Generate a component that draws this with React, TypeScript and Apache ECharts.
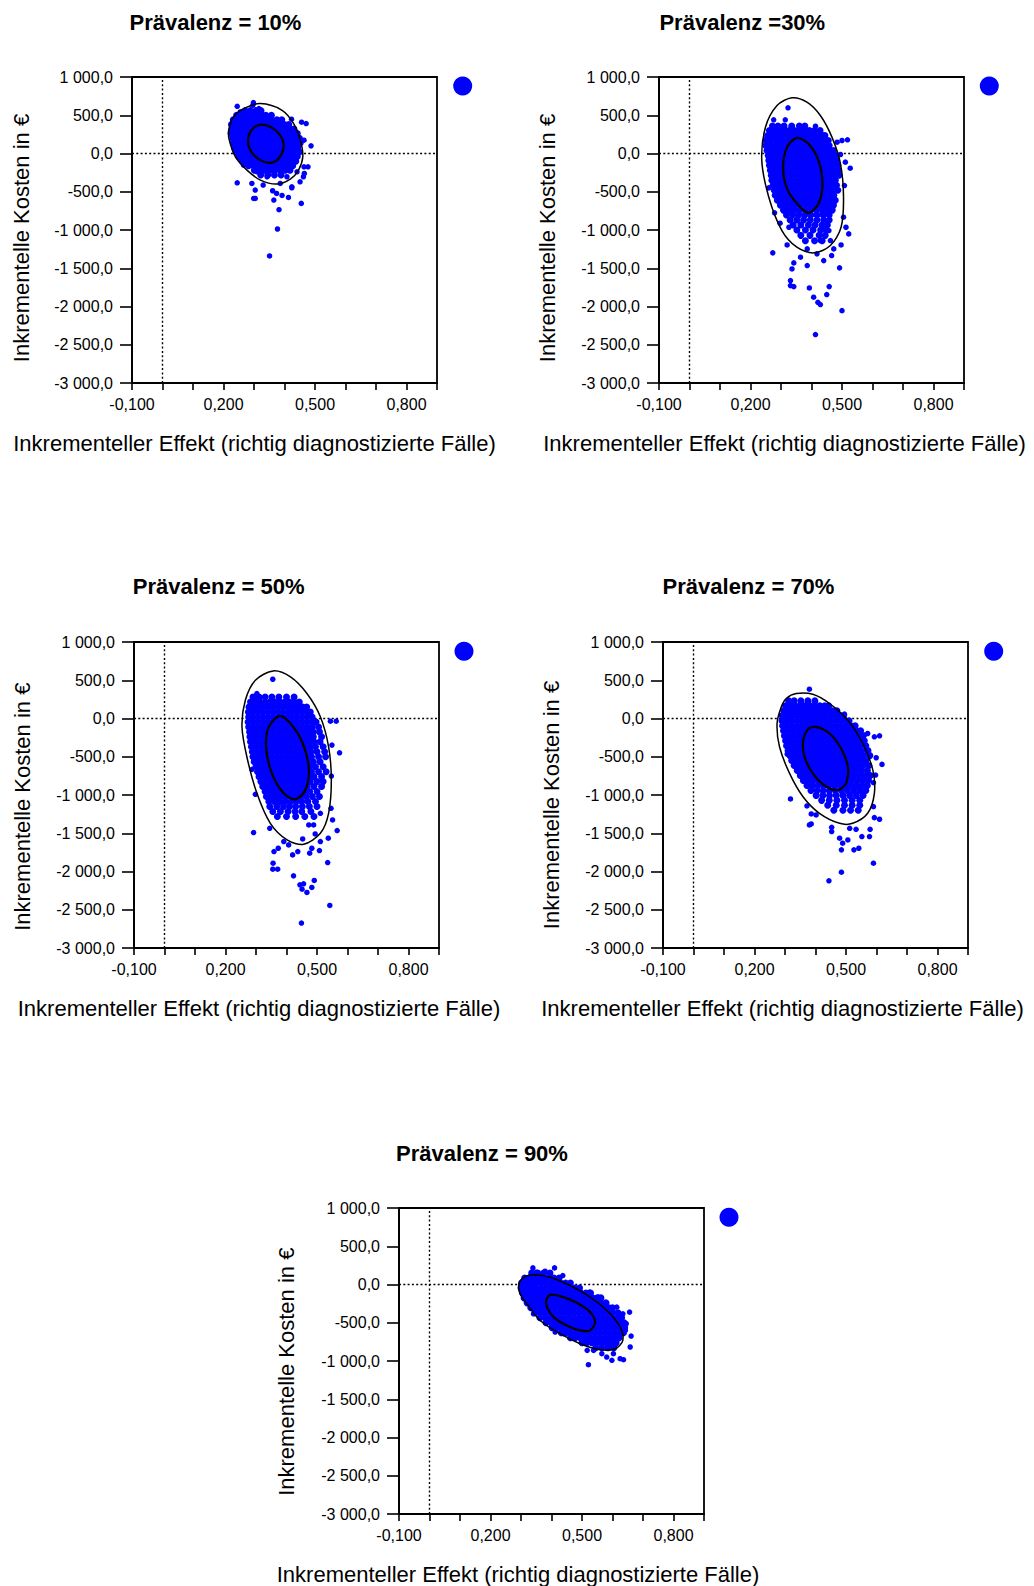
import React, { useEffect, useRef } from "react";
import * as echarts from "echarts";

const FONT = "'Liberation Sans', Arial, Helvetica, sans-serif";

// ---- axis ticks / labels ----
const X_LABELED = [-0.1, 0.2, 0.5, 0.8];
const X_TICK_LABELS = ["-0,100", "0,200", "0,500", "0,800"];
const Y_TICK_VALUES = [-3000, -2500, -2000, -1500, -1000, -500, 0, 500, 1000];
const Y_TICK_LABELS = ["-3 000,0", "-2 500,0", "-2 000,0", "-1 500,0", "-1 000,0", "-500,0", "0,0", "500,0", "1 000,0"];

const TITLES = ["Prävalenz = 10%", "Prävalenz =30%", "Prävalenz = 50%", "Prävalenz = 70%", "Prävalenz = 90%"];
const SERIES_NAMES = ["Prävalenz 10%", "Prävalenz 30%", "Prävalenz 50%", "Prävalenz 70%", "Prävalenz 90%"];
const X_AXIS_TITLE = "Inkrementeller Effekt (richtig diagnostizierte Fälle)";
const Y_AXIS_TITLE = "Inkrementelle Kosten in €";

// ---- dense cores: rows of [cost, [effects...]] ----
const DENSE_10: [number, number[]][] = [
  [560, [0.271, 0.288, 0.306, 0.323]],
  [500, [0.243, 0.259, 0.276, 0.29, 0.307, 0.324, 0.339, 0.357]],
  [440, [0.232, 0.248, 0.263, 0.279, 0.296, 0.311, 0.327, 0.344, 0.358, 0.375, 0.391]],
  [380, [0.226, 0.241, 0.258, 0.273, 0.289, 0.304, 0.32, 0.337, 0.352, 0.368, 0.383, 0.4, 0.414]],
  [320, [0.228, 0.244, 0.26, 0.276, 0.291, 0.307, 0.324, 0.339, 0.355, 0.371, 0.386, 0.403, 0.418, 0.431]],
  [260, [0.225, 0.241, 0.256, 0.272, 0.289, 0.303, 0.319, 0.336, 0.351, 0.367, 0.384, 0.399, 0.415, 0.43, 0.442]],
  [200, [0.23, 0.246, 0.262, 0.279, 0.294, 0.31, 0.327, 0.342, 0.357, 0.374, 0.389, 0.405, 0.422, 0.437, 0.449]],
  [140, [0.232, 0.248, 0.265, 0.28, 0.296, 0.312, 0.328, 0.345, 0.36, 0.376, 0.392, 0.409, 0.424, 0.44, 0.452]],
  [80, [0.236, 0.252, 0.268, 0.285, 0.3, 0.316, 0.333, 0.348, 0.364, 0.381, 0.396, 0.412, 0.428, 0.444]],
  [20, [0.241, 0.257, 0.274, 0.289, 0.305, 0.322, 0.337, 0.353, 0.37, 0.385, 0.401, 0.418, 0.433, 0.449]],
  [-40, [0.25, 0.266, 0.283, 0.298, 0.314, 0.331, 0.346, 0.362, 0.379, 0.394, 0.41, 0.427, 0.442]],
  [-100, [0.262, 0.279, 0.294, 0.31, 0.327, 0.342, 0.358, 0.375, 0.39, 0.406, 0.423, 0.437]],
  [-160, [0.282, 0.299, 0.315, 0.331, 0.348, 0.363, 0.379, 0.396, 0.411, 0.427]],
  [-220, [0.301, 0.318, 0.334, 0.352, 0.368, 0.385, 0.403, 0.418]],
  [-280, [0.322, 0.345, 0.367, 0.389]],
];
const DENSE_30: [number, number[]][] = [
  [360, [0.272, 0.29, 0.31, 0.335, 0.36, 0.378]],
  [300, [0.262, 0.279, 0.295, 0.311, 0.327, 0.344, 0.36, 0.376, 0.393, 0.41, 0.428]],
  [235, [0.256, 0.272, 0.288, 0.304, 0.32, 0.336, 0.352, 0.368, 0.384, 0.4, 0.416, 0.432, 0.444]],
  [170, [0.251, 0.267, 0.283, 0.299, 0.315, 0.331, 0.347, 0.363, 0.379, 0.395, 0.411, 0.427, 0.443, 0.455]],
  [105, [0.25, 0.266, 0.282, 0.298, 0.314, 0.33, 0.346, 0.362, 0.378, 0.394, 0.41, 0.426, 0.442, 0.458]],
  [40, [0.254, 0.27, 0.286, 0.302, 0.318, 0.334, 0.35, 0.366, 0.382, 0.398, 0.414, 0.43, 0.446, 0.462, 0.472]],
  [-25, [0.258, 0.274, 0.29, 0.306, 0.322, 0.338, 0.354, 0.37, 0.386, 0.402, 0.418, 0.434, 0.45, 0.466, 0.48]],
  [-90, [0.26, 0.276, 0.292, 0.308, 0.324, 0.34, 0.356, 0.372, 0.388, 0.404, 0.42, 0.436, 0.452, 0.468, 0.482]],
  [-155, [0.262, 0.278, 0.294, 0.31, 0.326, 0.342, 0.358, 0.374, 0.39, 0.406, 0.422, 0.438, 0.454, 0.47, 0.486]],
  [-220, [0.265, 0.281, 0.297, 0.313, 0.329, 0.345, 0.361, 0.377, 0.393, 0.409, 0.425, 0.441, 0.457, 0.473, 0.489]],
  [-285, [0.268, 0.284, 0.3, 0.316, 0.332, 0.348, 0.364, 0.38, 0.396, 0.412, 0.428, 0.444, 0.46, 0.476, 0.49]],
  [-350, [0.27, 0.286, 0.302, 0.318, 0.334, 0.35, 0.366, 0.382, 0.398, 0.414, 0.43, 0.446, 0.462, 0.478]],
  [-415, [0.274, 0.29, 0.306, 0.322, 0.338, 0.354, 0.37, 0.386, 0.402, 0.418, 0.434, 0.45, 0.466, 0.482]],
  [-480, [0.278, 0.294, 0.31, 0.326, 0.342, 0.358, 0.374, 0.39, 0.406, 0.422, 0.438, 0.454, 0.47, 0.486]],
  [-545, [0.281, 0.297, 0.313, 0.329, 0.345, 0.361, 0.377, 0.393, 0.409, 0.425, 0.441, 0.457, 0.473]],
  [-610, [0.288, 0.304, 0.32, 0.336, 0.352, 0.368, 0.384, 0.4, 0.416, 0.432, 0.448, 0.464, 0.478]],
  [-675, [0.298, 0.314, 0.33, 0.346, 0.362, 0.378, 0.394, 0.41, 0.426, 0.442, 0.458, 0.472]],
  [-740, [0.308, 0.326, 0.344, 0.362, 0.38, 0.398, 0.416, 0.434, 0.452, 0.468]],
  [-805, [0.318, 0.338, 0.358, 0.378, 0.398, 0.418, 0.438, 0.458]],
  [-870, [0.33, 0.352, 0.374, 0.396, 0.418, 0.44, 0.458]],
  [-935, [0.34, 0.365, 0.39, 0.412, 0.435, 0.452]],
  [-1000, [0.352, 0.38, 0.405, 0.43, 0.448]],
  [-1070, [0.365, 0.395, 0.425, 0.445]],
  [-1140, [0.38, 0.41, 0.435]],
];
const DENSE_50: [number, number[]][] = [
  [280, [0.29, 0.31, 0.33, 0.352, 0.375, 0.4, 0.425]],
  [215, [0.282, 0.298, 0.314, 0.33, 0.346, 0.362, 0.378, 0.394, 0.41, 0.426, 0.442]],
  [150, [0.277, 0.293, 0.309, 0.325, 0.341, 0.357, 0.373, 0.389, 0.405, 0.421, 0.437, 0.453, 0.466]],
  [85, [0.275, 0.291, 0.307, 0.323, 0.339, 0.355, 0.371, 0.387, 0.403, 0.419, 0.435, 0.451, 0.467, 0.478]],
  [20, [0.276, 0.292, 0.308, 0.324, 0.34, 0.356, 0.372, 0.388, 0.404, 0.42, 0.436, 0.452, 0.468, 0.484]],
  [-45, [0.274, 0.29, 0.306, 0.322, 0.338, 0.354, 0.37, 0.386, 0.402, 0.418, 0.434, 0.45, 0.466, 0.482, 0.497]],
  [-110, [0.276, 0.292, 0.308, 0.324, 0.34, 0.356, 0.372, 0.388, 0.404, 0.42, 0.436, 0.452, 0.468, 0.484, 0.505]],
  [-175, [0.279, 0.295, 0.311, 0.327, 0.343, 0.359, 0.375, 0.391, 0.407, 0.423, 0.439, 0.455, 0.471, 0.487, 0.508]],
  [-240, [0.28, 0.296, 0.312, 0.328, 0.344, 0.36, 0.376, 0.392, 0.408, 0.424, 0.44, 0.456, 0.472, 0.488, 0.515]],
  [-305, [0.282, 0.298, 0.314, 0.33, 0.346, 0.362, 0.378, 0.394, 0.41, 0.426, 0.442, 0.458, 0.474, 0.49, 0.51]],
  [-370, [0.285, 0.301, 0.317, 0.333, 0.349, 0.365, 0.381, 0.397, 0.413, 0.429, 0.445, 0.461, 0.477, 0.495, 0.52]],
  [-435, [0.288, 0.304, 0.32, 0.336, 0.352, 0.368, 0.384, 0.4, 0.416, 0.432, 0.448, 0.464, 0.48, 0.5, 0.525]],
  [-500, [0.29, 0.306, 0.322, 0.338, 0.354, 0.37, 0.386, 0.402, 0.418, 0.434, 0.45, 0.466, 0.482, 0.505, 0.528]],
  [-565, [0.294, 0.31, 0.326, 0.342, 0.358, 0.374, 0.39, 0.406, 0.422, 0.438, 0.454, 0.47, 0.488, 0.51]],
  [-630, [0.3, 0.316, 0.332, 0.348, 0.364, 0.38, 0.396, 0.412, 0.428, 0.444, 0.46, 0.476, 0.495, 0.52]],
  [-695, [0.305, 0.321, 0.337, 0.353, 0.369, 0.385, 0.401, 0.417, 0.433, 0.449, 0.465, 0.482, 0.505, 0.53]],
  [-760, [0.31, 0.326, 0.342, 0.358, 0.374, 0.39, 0.406, 0.422, 0.438, 0.454, 0.47, 0.49, 0.515]],
  [-825, [0.316, 0.332, 0.348, 0.364, 0.38, 0.396, 0.412, 0.428, 0.444, 0.46, 0.478, 0.5, 0.52]],
  [-890, [0.322, 0.338, 0.354, 0.37, 0.386, 0.402, 0.418, 0.434, 0.45, 0.468, 0.49, 0.515]],
  [-955, [0.33, 0.346, 0.362, 0.378, 0.394, 0.41, 0.426, 0.442, 0.458, 0.476, 0.5]],
  [-1020, [0.334, 0.35, 0.366, 0.382, 0.398, 0.414, 0.43, 0.446, 0.464, 0.485, 0.508]],
  [-1085, [0.342, 0.36, 0.378, 0.396, 0.414, 0.432, 0.45, 0.47, 0.495]],
  [-1150, [0.345, 0.368, 0.39, 0.41, 0.43, 0.452, 0.475, 0.5]],
  [-1215, [0.355, 0.38, 0.405, 0.428, 0.45, 0.48]],
  [-1280, [0.37, 0.4, 0.43, 0.46, 0.49]],
];
const DENSE_70: [number, number[]][] = [
  [230, [0.312, 0.33, 0.352, 0.375, 0.398]],
  [165, [0.302, 0.318, 0.334, 0.35, 0.366, 0.382, 0.398, 0.414, 0.43, 0.443]],
  [100, [0.296, 0.312, 0.328, 0.344, 0.36, 0.376, 0.392, 0.408, 0.424, 0.44, 0.456, 0.47]],
  [35, [0.291, 0.307, 0.323, 0.339, 0.355, 0.371, 0.387, 0.403, 0.419, 0.435, 0.451, 0.467, 0.483, 0.492]],
  [-30, [0.29, 0.306, 0.322, 0.338, 0.354, 0.37, 0.386, 0.402, 0.418, 0.434, 0.45, 0.466, 0.482, 0.498, 0.51]],
  [-95, [0.292, 0.308, 0.324, 0.34, 0.356, 0.372, 0.388, 0.404, 0.42, 0.436, 0.452, 0.468, 0.484, 0.5, 0.516, 0.53]],
  [-160, [0.295, 0.311, 0.327, 0.343, 0.359, 0.375, 0.391, 0.407, 0.423, 0.439, 0.455, 0.471, 0.487, 0.503, 0.519, 0.535, 0.548]],
  [-225, [0.298, 0.314, 0.33, 0.346, 0.362, 0.378, 0.394, 0.41, 0.426, 0.442, 0.458, 0.474, 0.49, 0.506, 0.522, 0.538, 0.556]],
  [-290, [0.302, 0.318, 0.334, 0.35, 0.366, 0.382, 0.398, 0.414, 0.43, 0.446, 0.462, 0.478, 0.494, 0.51, 0.526, 0.542, 0.56]],
  [-355, [0.305, 0.321, 0.337, 0.353, 0.369, 0.385, 0.401, 0.417, 0.433, 0.449, 0.465, 0.481, 0.497, 0.513, 0.529, 0.545, 0.565]],
  [-420, [0.31, 0.326, 0.342, 0.358, 0.374, 0.39, 0.406, 0.422, 0.438, 0.454, 0.47, 0.486, 0.502, 0.518, 0.534, 0.55, 0.572]],
  [-485, [0.316, 0.332, 0.348, 0.364, 0.38, 0.396, 0.412, 0.428, 0.444, 0.46, 0.476, 0.492, 0.508, 0.524, 0.54, 0.558, 0.578]],
  [-550, [0.322, 0.338, 0.354, 0.37, 0.386, 0.402, 0.418, 0.434, 0.45, 0.466, 0.482, 0.498, 0.514, 0.53, 0.546, 0.565]],
  [-615, [0.33, 0.346, 0.362, 0.378, 0.394, 0.41, 0.426, 0.442, 0.458, 0.474, 0.49, 0.506, 0.522, 0.538, 0.556, 0.575]],
  [-680, [0.34, 0.356, 0.372, 0.388, 0.404, 0.42, 0.436, 0.452, 0.468, 0.484, 0.5, 0.516, 0.532, 0.55, 0.57]],
  [-745, [0.35, 0.366, 0.382, 0.398, 0.414, 0.43, 0.446, 0.462, 0.478, 0.494, 0.51, 0.526, 0.544, 0.562, 0.58]],
  [-810, [0.36, 0.376, 0.392, 0.408, 0.424, 0.44, 0.456, 0.472, 0.488, 0.504, 0.52, 0.538, 0.556, 0.574]],
  [-875, [0.372, 0.39, 0.408, 0.426, 0.444, 0.462, 0.48, 0.498, 0.516, 0.534, 0.552, 0.57]],
  [-940, [0.385, 0.405, 0.425, 0.445, 0.465, 0.485, 0.505, 0.525, 0.545, 0.565]],
  [-1005, [0.402, 0.424, 0.446, 0.468, 0.49, 0.512, 0.534, 0.556]],
  [-1070, [0.42, 0.445, 0.47, 0.495, 0.52, 0.545]],
  [-1135, [0.44, 0.468, 0.495, 0.52, 0.545]],
  [-1200, [0.46, 0.49, 0.515, 0.54]],
];
const DENSE_90: [number, number[]][] = [
  [150, [0.335, 0.355, 0.375, 0.395]],
  [85, [0.312, 0.328, 0.344, 0.36, 0.376, 0.392, 0.408, 0.425]],
  [20, [0.302, 0.318, 0.334, 0.35, 0.366, 0.382, 0.398, 0.414, 0.43, 0.446, 0.462]],
  [-45, [0.3, 0.316, 0.332, 0.348, 0.364, 0.38, 0.396, 0.412, 0.428, 0.444, 0.46, 0.476, 0.492]],
  [-110, [0.305, 0.321, 0.337, 0.353, 0.369, 0.385, 0.401, 0.417, 0.433, 0.449, 0.465, 0.481, 0.497, 0.513, 0.528]],
  [-175, [0.31, 0.326, 0.342, 0.358, 0.374, 0.39, 0.406, 0.422, 0.438, 0.454, 0.47, 0.486, 0.502, 0.518, 0.534, 0.55, 0.562]],
  [-240, [0.32, 0.336, 0.352, 0.368, 0.384, 0.4, 0.416, 0.432, 0.448, 0.464, 0.48, 0.496, 0.512, 0.528, 0.544, 0.56, 0.578]],
  [-305, [0.332, 0.348, 0.364, 0.38, 0.396, 0.412, 0.428, 0.444, 0.46, 0.476, 0.492, 0.508, 0.524, 0.54, 0.556, 0.572, 0.588, 0.6]],
  [-370, [0.346, 0.362, 0.378, 0.394, 0.41, 0.426, 0.442, 0.458, 0.474, 0.49, 0.506, 0.522, 0.538, 0.554, 0.57, 0.586, 0.602, 0.618]],
  [-435, [0.362, 0.378, 0.394, 0.41, 0.426, 0.442, 0.458, 0.474, 0.49, 0.506, 0.522, 0.538, 0.554, 0.57, 0.586, 0.602, 0.618, 0.63]],
  [-500, [0.382, 0.398, 0.414, 0.43, 0.446, 0.462, 0.478, 0.494, 0.51, 0.526, 0.542, 0.558, 0.574, 0.59, 0.606, 0.622, 0.638]],
  [-565, [0.402, 0.418, 0.434, 0.45, 0.466, 0.482, 0.498, 0.514, 0.53, 0.546, 0.562, 0.578, 0.594, 0.61, 0.626, 0.64]],
  [-630, [0.432, 0.448, 0.464, 0.48, 0.496, 0.512, 0.528, 0.544, 0.56, 0.576, 0.592, 0.608, 0.624, 0.636]],
  [-695, [0.462, 0.478, 0.494, 0.51, 0.526, 0.542, 0.558, 0.574, 0.59, 0.606, 0.622]],
  [-760, [0.5, 0.516, 0.532, 0.548, 0.564, 0.58, 0.596, 0.612]],
  [-825, [0.545, 0.565, 0.585, 0.605]],
];

// ---- scattered simulations outside the cores: [effect, cost] ----
const OUT_10 = [[0.351,-1339],[0.377,-987],[0.382,-735],[0.455,-652],[0.245,-383],[0.299,-587],[0.304,-587],[0.361,-487],[0.392,-548],[0.413,-574],[0.365,-609],[0.374,-522],[0.33,-413],[0.304,-478],[0.451,-370],[0.462,-304],[0.465,-261],[0.477,-174],[0.487,100],[0.464,174],[0.471,391],[0.456,409],[0.423,448],[0.298,665],[0.245,617],[0.231,365],[0.255,543],[0.296,630],[0.316,587],[0.424,-435],[0.343,-304],[0.31,-239],[0.408,-304],[0.266,-152],[0.464,-174],[0.441,-239],[0.293,-391],[0.386,-391],[0.424,-448]];
const OUT_30 = [[0.413,-2367],[0.5,-2054],[0.393,-1757],[0.407,-1879],[0.421,-1945],[0.429,-1975],[0.45,-1844],[0.458,-1740],[0.331,-1661],[0.331,-1727],[0.342,-1740],[0.336,-1509],[0.342,-1430],[0.273,-1299],[0.32,-1195],[0.364,-1356],[0.386,-1465],[0.44,-1400],[0.492,-1495],[0.466,-1334],[0.497,-1195],[0.522,-1051],[0.513,-964],[0.505,-833],[0.508,-419],[0.527,-192],[0.511,-113],[0.518,179],[0.5,170],[0.323,597],[0.276,440],[0.314,440],[0.254,205],[0.263,83],[0.26,-449],[0.279,-776],[0.297,-911],[0.326,-964],[0.386,-1247],[0.418,-1312],[0.429,-1138],[0.457,-1007],[0.462,-1138],[0.473,-1247],[0.413,357],[0.435,249],[0.484,148],[0.495,-13]];
const OUT_50 = [[0.449,-2674],[0.542,-2444],[0.467,-2274],[0.451,-2231],[0.444,-2174],[0.456,-2161],[0.483,-2209],[0.491,-2117],[0.423,-2057],[0.356,-1891],[0.355,-1970],[0.371,-1970],[0.535,-1883],[0.292,-1491],[0.359,-1739],[0.373,-1696],[0.42,-1783],[0.437,-1739],[0.476,-1761],[0.508,-1726],[0.453,-1574],[0.494,-1509],[0.537,-1565],[0.566,-1465],[0.551,-1326],[0.546,-1174],[0.574,-448],[0.563,-35],[0.544,-35],[0.549,-348],[0.547,-752],[0.355,513],[0.303,326],[0.276,74],[0.287,-665],[0.298,-991],[0.345,-1435],[0.391,-1609],[0.407,-1652],[0.483,-1696],[0.511,-1239],[0.489,-1391],[0.511,-1609],[0.473,-1391]];
const OUT_70 = [[0.444,-2122],[0.485,-2009],[0.59,-1891],[0.485,-1717],[0.489,-1630],[0.506,-1587],[0.526,-1717],[0.542,-1696],[0.479,-1565],[0.453,-1478],[0.453,-1422],[0.38,-1391],[0.386,-1378],[0.552,-1543],[0.577,-1543],[0.579,-1448],[0.61,-1317],[0.593,-1296],[0.59,-1152],[0.533,-1448],[0.512,-1435],[0.318,-1052],[0.386,-1248],[0.372,-1143],[0.402,-1261],[0.618,-600],[0.61,-226],[0.593,-239],[0.571,-196],[0.599,-513],[0.597,-739],[0.59,-839],[0.38,383],[0.353,196],[0.318,196],[0.298,0],[0.307,-465],[0.495,57],[0.479,22],[0.451,57],[0.56,-217],[0.566,-413]];
const OUT_90 = [[0.521,-1048],[0.339,217],[0.41,217],[0.379,174],[0.35,161],[0.437,117],[0.525,-100],[0.554,-165],[0.581,-239],[0.614,-296],[0.656,-361],[0.634,-383],[0.661,-674],[0.658,-817],[0.636,-983],[0.625,-970],[0.598,-991],[0.581,-948],[0.538,-861],[0.517,-861],[0.645,-513],[0.642,-600],[0.325,9],[0.341,-383],[0.412,-622],[0.439,-643],[0.565,-904],[0.603,-904]];

// ---- confidence ellipses, outline points [effect, cost] ----
const ELL_OUT_10 = [[0.321,652],[0.392,565],[0.43,391],[0.452,174],[0.46,-43],[0.446,-217],[0.419,-335],[0.375,-400],[0.321,-348],[0.277,-217],[0.239,-43],[0.219,174],[0.217,304],[0.233,478],[0.266,587]];
const ELL_IN_10 = [[0.321,378],[0.364,326],[0.392,196],[0.397,78],[0.381,-65],[0.354,-122],[0.321,-87],[0.291,22],[0.28,152],[0.291,304]];
const ELL_OUT_30 = [[0.336,728],[0.385,671],[0.429,497],[0.467,214],[0.495,-135],[0.505,-571],[0.497,-964],[0.462,-1203],[0.407,-1299],[0.352,-1225],[0.303,-1007],[0.26,-571],[0.237,-92],[0.249,344],[0.287,628]];
const ELL_IN_30 = [[0.352,205],[0.39,126],[0.423,-92],[0.436,-397],[0.423,-658],[0.391,-776],[0.358,-680],[0.32,-462],[0.307,-179],[0.32,83]];
const ELL_OUT_50 = [[0.356,622],[0.413,543],[0.467,326],[0.511,22],[0.538,-370],[0.547,-804],[0.538,-1239],[0.511,-1500],[0.456,-1644],[0.402,-1587],[0.347,-1370],[0.303,-978],[0.27,-500],[0.254,-109],[0.265,239],[0.298,500]];
const ELL_IN_50 = [[0.378,35],[0.413,-65],[0.451,-304],[0.473,-652],[0.462,-935],[0.429,-1057],[0.391,-978],[0.352,-717],[0.333,-370],[0.342,-109]];
const ELL_OUT_70 = [[0.337,326],[0.391,317],[0.446,196],[0.506,-22],[0.555,-326],[0.588,-674],[0.593,-978],[0.571,-1239],[0.522,-1370],[0.479,-1370],[0.413,-1239],[0.359,-1022],[0.315,-717],[0.282,-370],[0.274,-65],[0.288,152],[0.304,261]];
const ELL_IN_70 = [[0.402,-109],[0.446,-196],[0.484,-391],[0.506,-630],[0.5,-848],[0.473,-935],[0.435,-891],[0.391,-717],[0.364,-500],[0.359,-304],[0.375,-143]];
const ELL_OUT_90 = [[0.341,126],[0.396,96],[0.461,-13],[0.527,-165],[0.587,-361],[0.625,-557],[0.634,-730],[0.609,-839],[0.56,-852],[0.494,-774],[0.428,-643],[0.363,-470],[0.319,-252],[0.295,-100],[0.295,30],[0.314,104]];
const ELL_IN_90 = [[0.396,-135],[0.428,-152],[0.478,-230],[0.527,-361],[0.543,-491],[0.527,-600],[0.494,-600],[0.45,-535],[0.407,-426],[0.385,-296],[0.383,-200]];

const DENSE = [DENSE_10, DENSE_30, DENSE_50, DENSE_70, DENSE_90];
const OUTLIERS = [OUT_10, OUT_30, OUT_50, OUT_70, OUT_90];
const ELL_OUTER = [ELL_OUT_10, ELL_OUT_30, ELL_OUT_50, ELL_OUT_70, ELL_OUT_90];
const ELL_INNER = [ELL_IN_10, ELL_IN_30, ELL_IN_50, ELL_IN_70, ELL_IN_90];

// ---- layout (pixels) ----
const PLOT_W = 305;
const PLOT_H = 306;
const LAYOUT = [
  { left: 132, top: 77, title: [215.5, 22], xTitle: [254.5, 443.5], yTitle: [21, 238], dot: [462.7, 86] },
  { left: 659, top: 77, title: [742.3, 22], xTitle: [784.5, 443.5], yTitle: [547.5, 238], dot: [989.3, 86] },
  { left: 134, top: 642, title: [218.7, 586.3], xTitle: [259, 1008.5], yTitle: [22.5, 806.7], dot: [464, 651.3] },
  { left: 663, top: 642, title: [748.5, 586.3], xTitle: [782.5, 1008.5], yTitle: [551.7, 805], dot: [993.7, 651.3] },
  { left: 399, top: 1208, title: [482, 1153.8], xTitle: [518, 1574], yTitle: [286.7, 1371.7], dot: [729, 1217.3] },
];

function buildOption() {
  const grid: any[] = [];
  const xAxis: any[] = [];
  const yAxis: any[] = [];
  const series: any[] = [];
  const legend: any[] = [];
  const graphic: any[] = [];

  LAYOUT.forEach((l, i) => {
    grid.push({ left: l.left, top: l.top, width: PLOT_W, height: PLOT_H, show: true, borderColor: "#000", borderWidth: 1.8, backgroundColor: "transparent" });
    xAxis.push({
      gridIndex: i, type: "value", min: -0.1, max: 0.9, interval: 0.1,
      axisLine: { show: true, onZero: false, lineStyle: { color: "#000", width: 1.8 } },
      axisTick: { show: true, inside: false, length: 7, lineStyle: { color: "#000", width: 1.6 } },
      axisLabel: {
        show: true, margin: 13, fontSize: 16, color: "#000", fontFamily: FONT,
        showMinLabel: true, showMaxLabel: true,
        formatter: (v: number) => {
          const k = X_LABELED.findIndex((t) => Math.abs(t - v) < 1e-6);
          return k >= 0 ? X_TICK_LABELS[k] : "";
        },
      },
      splitLine: { show: false },
    });
    yAxis.push({
      gridIndex: i, type: "value", min: -3000, max: 1000, interval: 500,
      axisLine: { show: true, onZero: false, lineStyle: { color: "#000", width: 1.8 } },
      axisTick: { show: true, inside: false, length: 12, lineStyle: { color: "#000", width: 1.6 } },
      axisLabel: {
        show: true, margin: 19, fontSize: 16, color: "#000", fontFamily: FONT,
        formatter: (v: number) => {
          const k = Y_TICK_VALUES.findIndex((t) => Math.abs(t - v) < 1e-6);
          return k >= 0 ? Y_TICK_LABELS[k] : "";
        },
      },
      splitLine: { show: false },
    });

    const dotted = { color: "#000", width: 1.4, type: [2, 2.3] };
    series.push({
      type: "line", xAxisIndex: i, yAxisIndex: i, silent: true, symbol: "none", z: 1,
      data: [[0, -3000], [0, 1000]], lineStyle: dotted,
    });
    series.push({
      type: "line", xAxisIndex: i, yAxisIndex: i, silent: true, symbol: "none", z: 1,
      data: [[-0.1, 0], [0.9, 0]], lineStyle: dotted,
    });

    const core: number[][] = [];
    DENSE[i].forEach(([y, xs]) => xs.forEach((x) => core.push([x, y])));
    series.push({
      name: SERIES_NAMES[i], type: "scatter", xAxisIndex: i, yAxisIndex: i, z: 2,
      symbol: "circle", symbolSize: 7, itemStyle: { color: "#0000FF", opacity: 1 },
      data: core, silent: true,
    });
    series.push({
      name: SERIES_NAMES[i], type: "scatter", xAxisIndex: i, yAxisIndex: i, z: 2,
      symbol: "circle", symbolSize: 5.5, itemStyle: { color: "#0000FF", opacity: 1 },
      data: OUTLIERS[i], silent: true,
    });

    [[ELL_OUTER[i], 1.5], [ELL_INNER[i], 2.2]].forEach(([ell, w]: any) => {
      series.push({
        type: "custom", xAxisIndex: i, yAxisIndex: i, z: 3, silent: true,
        data: ell,
        renderItem: (params: any, api: any) => {
          if (params.dataIndex !== 0) return null;
          return {
            type: "polygon",
            shape: { points: ell.map((p: number[]) => api.coord(p)), smooth: 0.3 },
            style: { fill: "none", stroke: "#000", lineWidth: w },
          };
        },
      });
    });

    legend.push({
      data: [SERIES_NAMES[i]], left: l.dot[0] - 9.5, top: l.dot[1] - 9.5, padding: 0,
      itemWidth: 19, itemHeight: 19, icon: "circle", itemGap: 0, selectedMode: false,
      formatter: () => "", textStyle: { fontSize: 1 },
    });

    graphic.push({
      type: "text", x: l.title[0], y: l.title[1],
      style: { text: TITLES[i], fontFamily: FONT, fontSize: 22, fontWeight: "bold", fill: "#000", align: "center", verticalAlign: "middle" },
    });
    graphic.push({
      type: "text", x: l.xTitle[0], y: l.xTitle[1],
      style: { text: X_AXIS_TITLE, fontFamily: FONT, fontSize: 22, fill: "#000", align: "center", verticalAlign: "middle" },
    });
    graphic.push({
      type: "text", x: l.yTitle[0], y: l.yTitle[1], rotation: Math.PI / 2,
      style: { text: Y_AXIS_TITLE, fontFamily: FONT, fontSize: 22, fill: "#000", align: "center", verticalAlign: "middle" },
    });
  });

  return {
    animation: false,
    backgroundColor: "#fff",
    textStyle: { fontFamily: FONT },
    grid, xAxis, yAxis, series, legend, graphic,
  };
}

export default function App() {
  const ref = useRef<HTMLDivElement>(null);
  useEffect(() => {
    if (!ref.current) return;
    const chart = echarts.init(ref.current, undefined, { renderer: "svg" });
    chart.setOption(buildOption() as any);
    return () => chart.dispose();
  }, []);
  return (
    <div
      ref={ref}
      style={{ position: "absolute", left: 0, top: 0, width: 1034, height: 1586, background: "#fff" }}
    />
  );
}
